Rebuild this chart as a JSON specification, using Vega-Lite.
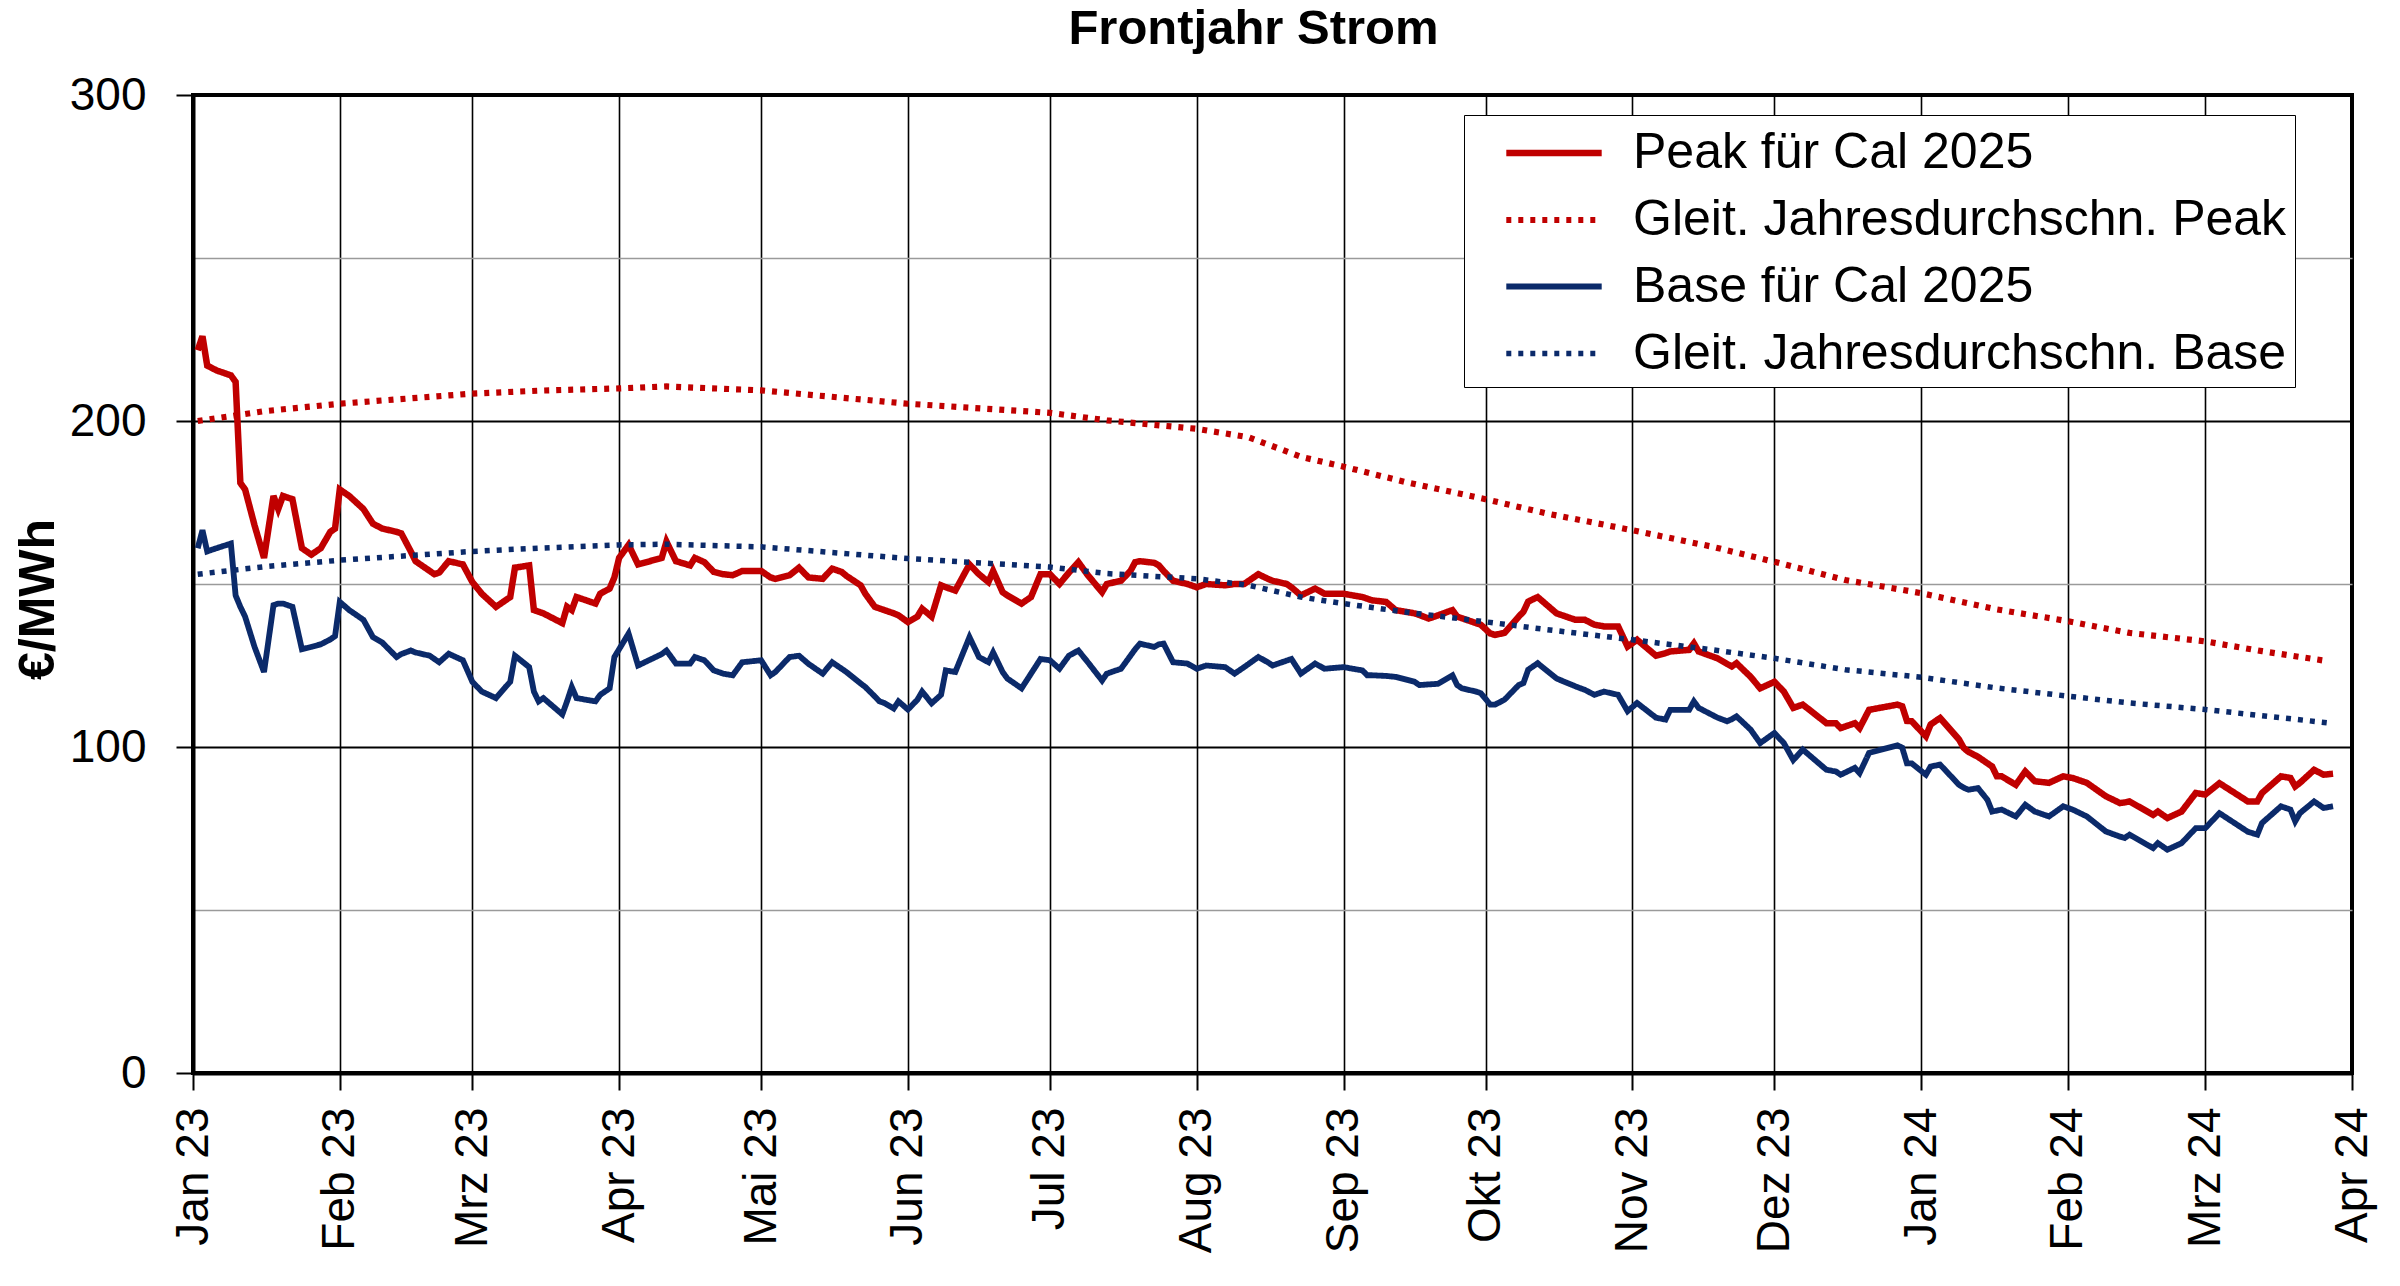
{
  "$schema": "https://vega.github.io/schema/vega-lite/v6.json",
  "width": 2159,
  "height": 978,
  "autosize": {"type": "none"},
  "padding": {"left": 193, "top": 95, "right": 48, "bottom": 213},
  "background": "white",
  "title": {
    "text": "Frontjahr Strom",
    "font": "Liberation Sans",
    "fontSize": 49,
    "fontWeight": "bold",
    "color": "black",
    "anchor": "middle",
    "baseline": "alphabetic",
    "offset": 27,
    "dx": -19,
    "dy": 48
  },
  "config": {
    "view": {"stroke": "black", "strokeWidth": 4},
    "axis": {
      "labelFont": "Liberation Sans",
      "labelFontSize": 46,
      "labelColor": "black",
      "titleFont": "Liberation Sans",
      "titleColor": "black",
      "domainColor": "black",
      "domainWidth": 4,
      "tickColor": "black",
      "tickWidth": 2,
      "tickSize": 17
    },
    "legend": {
      "labelFont": "Liberation Sans",
      "labelFontSize": 50,
      "labelColor": "black",
      "labelLimit": 2000,
      "symbolStrokeWidth": 5,
      "symbolSize": 2809,
      "symbolType": "M-1.8,0H1.8"
    }
  },
  "data": {
    "values": [
      {"d": "2023-01-02", "p": 221.7, "b": 161},
      {"d": "2023-01-03", "p": 226, "b": 166.5},
      {"d": "2023-01-04", "p": 217, "b": 160},
      {"d": "2023-01-06", "p": 215.5, "b": 161},
      {"d": "2023-01-09", "p": 214, "b": 162.4},
      {"d": "2023-01-10", "p": 212, "b": 146.5},
      {"d": "2023-01-11", "p": 181, "b": 143},
      {"d": "2023-01-12", "p": 179, "b": 140},
      {"d": "2023-01-14", "p": 168, "b": 130.7},
      {"d": "2023-01-16", "p": 158, "b": 123},
      {"d": "2023-01-18", "p": 177, "b": 143.5},
      {"d": "2023-01-19", "p": 173, "b": 144},
      {"d": "2023-01-20", "p": 177, "b": 144},
      {"d": "2023-01-22", "p": 176, "b": 143},
      {"d": "2023-01-24", "p": 161, "b": 130},
      {"d": "2023-01-26", "p": 159, "b": 130.7},
      {"d": "2023-01-28", "p": 161, "b": 131.5},
      {"d": "2023-01-30", "p": 166, "b": 133},
      {"d": "2023-01-31", "p": 167, "b": 134},
      {"d": "2023-02-01", "p": 179, "b": 144.5},
      {"d": "2023-02-03", "p": 177, "b": 142},
      {"d": "2023-02-06", "p": 173, "b": 139},
      {"d": "2023-02-08", "p": 168.5, "b": 133.7},
      {"d": "2023-02-10", "p": 167, "b": 132},
      {"d": "2023-02-13", "p": 166, "b": 127.6},
      {"d": "2023-02-14", "p": 165.5, "b": 128.5},
      {"d": "2023-02-16", "p": 160, "b": 129.6},
      {"d": "2023-02-17", "p": 157, "b": 129},
      {"d": "2023-02-20", "p": 154, "b": 128},
      {"d": "2023-02-21", "p": 153, "b": 127},
      {"d": "2023-02-22", "p": 153.5, "b": 126},
      {"d": "2023-02-24", "p": 157, "b": 128.6},
      {"d": "2023-02-27", "p": 156, "b": 126.6},
      {"d": "2023-03-01", "p": 150.6, "b": 120},
      {"d": "2023-03-03", "p": 147, "b": 117},
      {"d": "2023-03-06", "p": 143, "b": 115},
      {"d": "2023-03-08", "p": 145, "b": 118.4},
      {"d": "2023-03-09", "p": 146, "b": 120},
      {"d": "2023-03-10", "p": 155, "b": 128},
      {"d": "2023-03-13", "p": 155.7, "b": 124.5},
      {"d": "2023-03-14", "p": 142, "b": 117},
      {"d": "2023-03-15", "p": 141.5, "b": 114},
      {"d": "2023-03-16", "p": 141, "b": 115},
      {"d": "2023-03-20", "p": 138, "b": 110},
      {"d": "2023-03-21", "p": 143, "b": 114},
      {"d": "2023-03-22", "p": 142, "b": 118.4},
      {"d": "2023-03-23", "p": 146, "b": 115},
      {"d": "2023-03-27", "p": 144, "b": 114},
      {"d": "2023-03-28", "p": 147, "b": 116},
      {"d": "2023-03-30", "p": 148.6, "b": 118},
      {"d": "2023-03-31", "p": 152, "b": 127.6},
      {"d": "2023-04-01", "p": 158, "b": 130},
      {"d": "2023-04-03", "p": 162, "b": 134.8},
      {"d": "2023-04-05", "p": 156, "b": 125},
      {"d": "2023-04-10", "p": 158, "b": 128.5},
      {"d": "2023-04-11", "p": 163, "b": 129.6},
      {"d": "2023-04-13", "p": 157, "b": 125.6},
      {"d": "2023-04-16", "p": 155.7, "b": 125.6},
      {"d": "2023-04-17", "p": 158, "b": 127.6},
      {"d": "2023-04-19", "p": 156.7, "b": 126.6},
      {"d": "2023-04-21", "p": 153.7, "b": 123.5},
      {"d": "2023-04-23", "p": 153, "b": 122.5},
      {"d": "2023-04-25", "p": 152.7, "b": 122},
      {"d": "2023-04-27", "p": 154, "b": 126},
      {"d": "2023-05-01", "p": 154, "b": 126.6},
      {"d": "2023-05-03", "p": 152, "b": 122},
      {"d": "2023-05-04", "p": 151.6, "b": 123},
      {"d": "2023-05-07", "p": 152.7, "b": 127.6},
      {"d": "2023-05-09", "p": 155, "b": 128},
      {"d": "2023-05-11", "p": 152, "b": 125.5},
      {"d": "2023-05-14", "p": 151.6, "b": 122.5},
      {"d": "2023-05-16", "p": 154.7, "b": 126},
      {"d": "2023-05-18", "p": 153.7, "b": 124},
      {"d": "2023-05-19", "p": 152.5, "b": 123},
      {"d": "2023-05-22", "p": 149.6, "b": 119.5},
      {"d": "2023-05-23", "p": 147, "b": 118.4},
      {"d": "2023-05-25", "p": 143, "b": 115.5},
      {"d": "2023-05-26", "p": 142.5, "b": 114},
      {"d": "2023-05-27", "p": 142, "b": 113.5},
      {"d": "2023-05-29", "p": 141, "b": 111.8},
      {"d": "2023-05-30", "p": 140.4, "b": 114},
      {"d": "2023-06-01", "p": 138.3, "b": 111.5},
      {"d": "2023-06-03", "p": 140, "b": 114.5},
      {"d": "2023-06-04", "p": 142.4, "b": 117},
      {"d": "2023-06-06", "p": 140, "b": 113.4},
      {"d": "2023-06-08", "p": 149.6, "b": 116},
      {"d": "2023-06-09", "p": 149, "b": 123.5},
      {"d": "2023-06-11", "p": 148, "b": 123},
      {"d": "2023-06-14", "p": 156, "b": 133.7},
      {"d": "2023-06-16", "p": 153, "b": 127.6},
      {"d": "2023-06-18", "p": 150.6, "b": 126},
      {"d": "2023-06-19", "p": 154, "b": 129},
      {"d": "2023-06-21", "p": 147.5, "b": 123},
      {"d": "2023-06-22", "p": 146.5, "b": 121},
      {"d": "2023-06-25", "p": 144, "b": 118},
      {"d": "2023-06-27", "p": 146, "b": 122.5},
      {"d": "2023-06-29", "p": 153, "b": 127},
      {"d": "2023-07-01", "p": 153, "b": 126.6},
      {"d": "2023-07-03", "p": 150, "b": 124},
      {"d": "2023-07-05", "p": 153.5, "b": 128},
      {"d": "2023-07-07", "p": 156.7, "b": 129.6},
      {"d": "2023-07-09", "p": 152.7, "b": 126},
      {"d": "2023-07-12", "p": 147.5, "b": 120.4},
      {"d": "2023-07-13", "p": 150, "b": 122.5},
      {"d": "2023-07-16", "p": 151, "b": 124},
      {"d": "2023-07-18", "p": 154, "b": 128},
      {"d": "2023-07-19", "p": 156.7, "b": 130},
      {"d": "2023-07-20", "p": 157, "b": 131.7},
      {"d": "2023-07-23", "p": 156.5, "b": 130.7},
      {"d": "2023-07-24", "p": 155.7, "b": 131.5},
      {"d": "2023-07-25", "p": 154, "b": 131.7},
      {"d": "2023-07-27", "p": 151, "b": 126},
      {"d": "2023-07-30", "p": 150, "b": 125.6},
      {"d": "2023-08-01", "p": 149, "b": 124},
      {"d": "2023-08-03", "p": 150, "b": 125},
      {"d": "2023-08-07", "p": 149.6, "b": 124.5},
      {"d": "2023-08-09", "p": 150, "b": 122.5},
      {"d": "2023-08-11", "p": 150, "b": 124.5},
      {"d": "2023-08-14", "p": 153, "b": 127.6},
      {"d": "2023-08-16", "p": 151.6, "b": 126},
      {"d": "2023-08-17", "p": 151, "b": 125},
      {"d": "2023-08-20", "p": 150, "b": 126.5},
      {"d": "2023-08-21", "p": 149, "b": 127},
      {"d": "2023-08-23", "p": 146.5, "b": 122.5},
      {"d": "2023-08-26", "p": 148.6, "b": 125.6},
      {"d": "2023-08-28", "p": 147, "b": 124},
      {"d": "2023-09-01", "p": 147, "b": 124.5},
      {"d": "2023-09-05", "p": 146, "b": 123.5},
      {"d": "2023-09-06", "p": 145.5, "b": 122},
      {"d": "2023-09-07", "p": 145, "b": 122},
      {"d": "2023-09-10", "p": 144.5, "b": 121.8},
      {"d": "2023-09-12", "p": 142, "b": 121.5},
      {"d": "2023-09-16", "p": 141, "b": 120},
      {"d": "2023-09-17", "p": 140.5, "b": 119},
      {"d": "2023-09-19", "p": 139.4, "b": 119.2},
      {"d": "2023-09-21", "p": 140.4, "b": 119.4},
      {"d": "2023-09-24", "p": 142, "b": 122},
      {"d": "2023-09-25", "p": 140, "b": 119},
      {"d": "2023-09-26", "p": 139.5, "b": 118},
      {"d": "2023-09-29", "p": 138, "b": 117},
      {"d": "2023-09-30", "p": 137.5, "b": 116.5},
      {"d": "2023-10-02", "p": 134.8, "b": 113},
      {"d": "2023-10-03", "p": 134.4, "b": 113},
      {"d": "2023-10-05", "p": 135, "b": 114.5},
      {"d": "2023-10-08", "p": 140, "b": 119},
      {"d": "2023-10-09", "p": 141.5, "b": 119.6},
      {"d": "2023-10-10", "p": 144.6, "b": 123.7},
      {"d": "2023-10-12", "p": 146, "b": 125.7},
      {"d": "2023-10-16", "p": 141, "b": 121},
      {"d": "2023-10-20", "p": 139, "b": 118.6},
      {"d": "2023-10-22", "p": 139, "b": 117.5},
      {"d": "2023-10-24", "p": 137.5, "b": 116},
      {"d": "2023-10-26", "p": 137, "b": 117},
      {"d": "2023-10-29", "p": 137, "b": 116},
      {"d": "2023-10-31", "p": 130.8, "b": 111},
      {"d": "2023-11-02", "p": 132.9, "b": 113.5},
      {"d": "2023-11-06", "p": 128, "b": 109},
      {"d": "2023-11-08", "p": 128.8, "b": 108.4},
      {"d": "2023-11-09", "p": 129.3, "b": 111.4},
      {"d": "2023-11-13", "p": 129.8, "b": 111.4},
      {"d": "2023-11-14", "p": 131.8, "b": 114},
      {"d": "2023-11-15", "p": 129.3, "b": 112},
      {"d": "2023-11-19", "p": 127.2, "b": 109},
      {"d": "2023-11-21", "p": 125.5, "b": 107.9},
      {"d": "2023-11-22", "p": 124.7, "b": 108.5},
      {"d": "2023-11-23", "p": 125.7, "b": 109.4},
      {"d": "2023-11-26", "p": 121.5, "b": 105.3},
      {"d": "2023-11-28", "p": 118, "b": 101.2},
      {"d": "2023-12-01", "p": 120, "b": 104.3},
      {"d": "2023-12-03", "p": 117, "b": 101.2},
      {"d": "2023-12-05", "p": 112, "b": 96},
      {"d": "2023-12-07", "p": 113, "b": 99.2},
      {"d": "2023-12-12", "p": 107.3, "b": 93},
      {"d": "2023-12-14", "p": 107.3, "b": 92.5},
      {"d": "2023-12-15", "p": 105.8, "b": 91.5},
      {"d": "2023-12-18", "p": 107.3, "b": 93.6},
      {"d": "2023-12-19", "p": 105.8, "b": 92},
      {"d": "2023-12-21", "p": 111.4, "b": 98.2},
      {"d": "2023-12-27", "p": 113, "b": 100.5},
      {"d": "2023-12-28", "p": 112.5, "b": 99.8},
      {"d": "2023-12-29", "p": 108, "b": 95},
      {"d": "2023-12-30", "p": 107.9, "b": 95},
      {"d": "2024-01-02", "p": 103.3, "b": 91.5},
      {"d": "2024-01-03", "p": 106.9, "b": 94},
      {"d": "2024-01-05", "p": 108.9, "b": 94.6},
      {"d": "2024-01-09", "p": 102.3, "b": 88.4},
      {"d": "2024-01-10", "p": 99.7, "b": 87.5},
      {"d": "2024-01-11", "p": 98.5, "b": 86.9},
      {"d": "2024-01-13", "p": 97, "b": 87.4},
      {"d": "2024-01-15", "p": 95, "b": 83.8},
      {"d": "2024-01-16", "p": 94, "b": 80.2},
      {"d": "2024-01-17", "p": 91, "b": 80.5},
      {"d": "2024-01-18", "p": 91, "b": 80.8},
      {"d": "2024-01-21", "p": 88.4, "b": 78.7},
      {"d": "2024-01-23", "p": 92.5, "b": 82.3},
      {"d": "2024-01-25", "p": 89.5, "b": 80.2},
      {"d": "2024-01-28", "p": 89, "b": 78.7},
      {"d": "2024-01-31", "p": 91, "b": 81.8},
      {"d": "2024-02-02", "p": 90.5, "b": 80.8},
      {"d": "2024-02-05", "p": 89, "b": 78.7},
      {"d": "2024-02-09", "p": 84.9, "b": 74.1},
      {"d": "2024-02-12", "p": 82.8, "b": 72.5},
      {"d": "2024-02-13", "p": 83, "b": 72.1},
      {"d": "2024-02-14", "p": 83.3, "b": 73.1},
      {"d": "2024-02-19", "p": 79.2, "b": 69},
      {"d": "2024-02-20", "p": 80.2, "b": 70.5},
      {"d": "2024-02-22", "p": 78.2, "b": 68.5},
      {"d": "2024-02-25", "p": 80.2, "b": 70.5},
      {"d": "2024-02-28", "p": 85.9, "b": 75.1},
      {"d": "2024-03-01", "p": 85.4, "b": 75.1},
      {"d": "2024-03-04", "p": 88.9, "b": 79.7},
      {"d": "2024-03-10", "p": 83.3, "b": 74},
      {"d": "2024-03-12", "p": 83.3, "b": 73.1},
      {"d": "2024-03-13", "p": 85.9, "b": 76.7},
      {"d": "2024-03-17", "p": 91, "b": 81.8},
      {"d": "2024-03-19", "p": 90.5, "b": 80.8},
      {"d": "2024-03-20", "p": 87.9, "b": 77.2},
      {"d": "2024-03-21", "p": 89, "b": 79.7},
      {"d": "2024-03-24", "p": 93, "b": 83.3},
      {"d": "2024-03-26", "p": 91.5, "b": 81.3},
      {"d": "2024-03-28", "p": 91.8, "b": 81.8},
      {"d": "2023-01-02", "pm": 200, "bm": 153},
      {"d": "2023-01-16", "pm": 203, "bm": 155.3},
      {"d": "2023-02-01", "pm": 205.3, "bm": 157.3},
      {"d": "2023-03-01", "pm": 208.4, "bm": 160},
      {"d": "2023-03-15", "pm": 209.3, "bm": 161},
      {"d": "2023-04-01", "pm": 210, "bm": 162},
      {"d": "2023-04-11", "pm": 210.6, "bm": 162.2},
      {"d": "2023-05-01", "pm": 209.4, "bm": 161.4},
      {"d": "2023-06-01", "pm": 205.3, "bm": 157.8},
      {"d": "2023-07-01", "pm": 202.5, "bm": 155.2},
      {"d": "2023-07-13", "pm": 200.2, "bm": 153.2},
      {"d": "2023-08-01", "pm": 197.6, "bm": 151.6},
      {"d": "2023-08-12", "pm": 195, "bm": 149.6},
      {"d": "2023-08-23", "pm": 189, "bm": 146},
      {"d": "2023-09-01", "pm": 186, "bm": 144},
      {"d": "2023-09-14", "pm": 181.3, "bm": 141.4},
      {"d": "2023-10-01", "pm": 176, "bm": 138.4},
      {"d": "2023-10-14", "pm": 171.6, "bm": 136},
      {"d": "2023-11-01", "pm": 166.5, "bm": 132.9},
      {"d": "2023-11-18", "pm": 161.4, "bm": 129.8},
      {"d": "2023-12-01", "pm": 156.8, "bm": 127.2},
      {"d": "2023-12-16", "pm": 151.2, "bm": 123.7},
      {"d": "2024-01-01", "pm": 147.2, "bm": 121.4},
      {"d": "2024-01-17", "pm": 142.2, "bm": 118.1},
      {"d": "2024-02-01", "pm": 138.6, "bm": 115.6},
      {"d": "2024-02-14", "pm": 135, "bm": 113.5},
      {"d": "2024-03-01", "pm": 132.4, "bm": 111.5},
      {"d": "2024-03-13", "pm": 129.4, "bm": 109.6},
      {"d": "2024-03-27", "pm": 126.3, "bm": 107.4}
    ]
  },
  "transform": [
    {"fold": ["p", "pm", "b", "bm"], "as": ["k", "v"]},
    {"filter": "isValid(datum.v)"}
  ],
  "mark": {"type": "line", "clip": true},
  "encoding": {
    "x": {
      "field": "d",
      "type": "temporal",
      "scale": {
        "type": "utc",
        "domain": [
          {"year": 2023, "month": 1, "date": 1, "utc": true},
          {"year": 2024, "month": 4, "date": 1, "utc": true}
        ]
      },
      "axis": {
        "title": null,
        "tickCount": {"interval": "month", "step": 1},
        "labelExpr": "['Jan','Feb','Mrz','Apr','Mai','Jun','Jul','Aug','Sep','Okt','Nov','Dez'][utcmonth(datum.value)] + ' ' + utcFormat(datum.value, '%y')",
        "labelAngle": 270,
        "labelPadding": 17,
        "labelOverlap": false,
        "labelFlush": false,
        "labelBound": false,
        "grid": true,
        "gridColor": "black",
        "gridWidth": 1.6
      }
    },
    "y": {
      "field": "v",
      "type": "quantitative",
      "scale": {"domain": [0, 300], "nice": false},
      "axis": {
        "title": "€/MWh",
        "titleFontSize": 50,
        "titleFontWeight": "bold",
        "titleAngle": 270,
        "titleAlign": "center",
        "titleBaseline": "middle",
        "titleX": -155,
        "titleY": 504,
        "values": [0, 50, 100, 150, 200, 250, 300],
        "labelExpr": "datum.value % 100 === 0 ? datum.label : ''",
        "labelPadding": 30,
        "tickOpacity": {"condition": {"test": "datum.value % 100 === 0", "value": 1}, "value": 0},
        "grid": true,
        "gridColor": {"condition": {"test": "datum.value % 100 === 0", "value": "black"}, "value": "#9a9a9a"},
        "gridWidth": {"condition": {"test": "datum.value % 100 === 0", "value": 2}, "value": 1.3}
      }
    },
    "strokeWidth": {
      "field": "k",
      "type": "nominal",
      "scale": {"domain": ["p", "pm", "b", "bm"], "range": [6.5, 5.5, 6.5, 5.5]},
      "legend": null
    },
    "color": {
      "field": "k",
      "type": "nominal",
      "scale": {
        "domain": ["p", "pm", "b", "bm"],
        "range": ["#c00000", "#c00000", "#0b2a6a", "#0b2a6a"]
      },
      "legend": {
        "orient": "none",
        "legendX": 1271,
        "legendY": 20,
        "title": null,
        "fillColor": "white",
        "strokeColor": "black",
        "padding": 8,
        "rowPadding": 12,
        "symbolOffset": 52,
        "labelOffset": 49,
        "labelExpr": "datum.value == 'p' ? 'Peak für Cal 2025' : datum.value == 'pm' ? 'Gleit. Jahresdurchschn. Peak' : datum.value == 'b' ? 'Base für Cal 2025' : 'Gleit. Jahresdurchschn. Base'"
      }
    },
    "strokeDash": {
      "field": "k",
      "type": "nominal",
      "scale": {
        "domain": ["p", "pm", "b", "bm"],
        "range": [[1, 0], [5, 7], [1, 0], [5, 7]]
      },
      "legend": {
        "orient": "none",
        "legendX": 1271,
        "legendY": 20,
        "title": null,
        "fillColor": "white",
        "strokeColor": "black",
        "padding": 8,
        "rowPadding": 12,
        "symbolOffset": 52,
        "labelOffset": 49,
        "labelExpr": "datum.value == 'p' ? 'Peak für Cal 2025' : datum.value == 'pm' ? 'Gleit. Jahresdurchschn. Peak' : datum.value == 'b' ? 'Base für Cal 2025' : 'Gleit. Jahresdurchschn. Base'"
      }
    }
  }
}
